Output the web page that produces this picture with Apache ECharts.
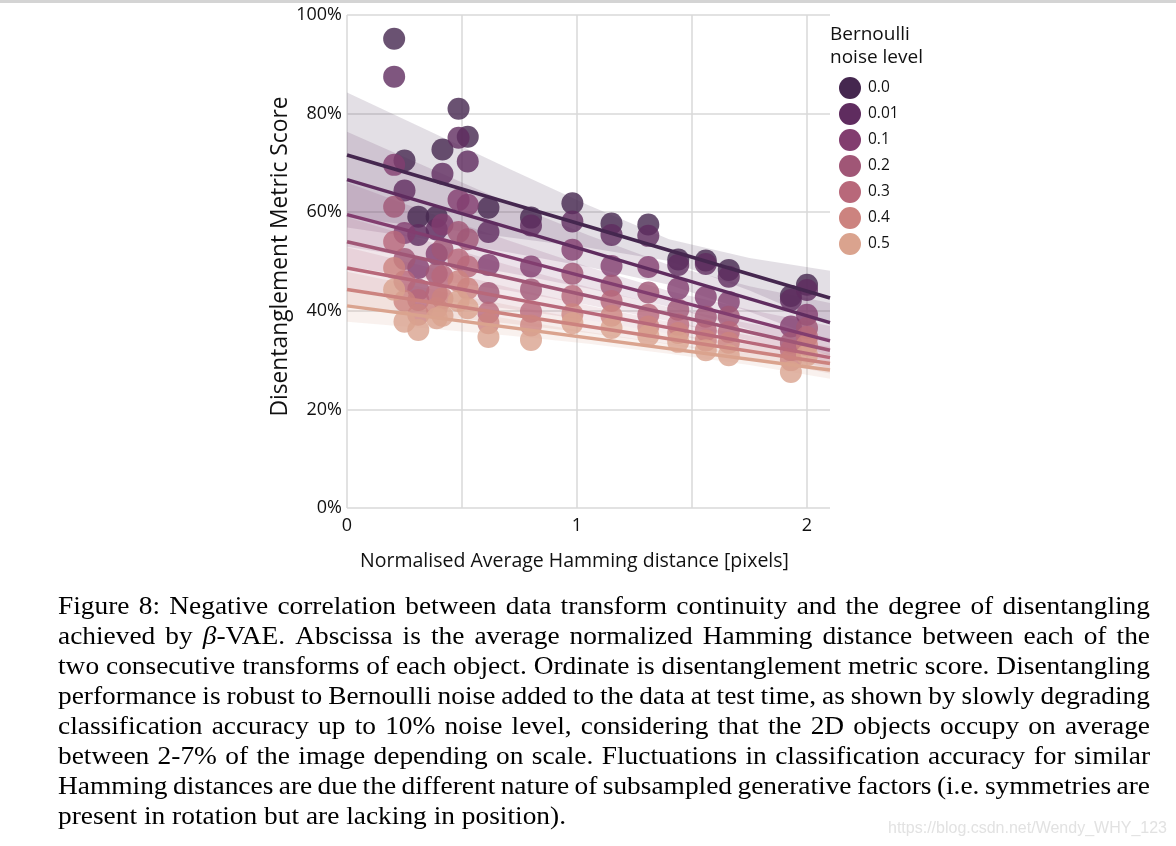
<!DOCTYPE html>
<html><head><meta charset="utf-8">
<script src="https://cdn.jsdelivr.net/npm/echarts@6/dist/echarts.min.js"></script>
<style>html,body{margin:0;padding:0;background:#fff}#c{width:1176px;height:846px}</style>
</head><body><div id="c"></div>
<script>
// ---------- data ----------
const levels = ['0.0', '0.01', '0.1', '0.2', '0.3', '0.4', '0.5'];
const colors = ['#45274f', '#5f2c5f', '#823d6f', '#a05676', '#b8687a', '#cc837f', '#daa38e'];
const xPositions = [0.205, 0.25, 0.31, 0.39, 0.415, 0.485, 0.525, 0.615, 0.80, 0.98, 1.15, 1.31, 1.44, 1.56, 1.66, 1.93, 2.0];
const score_0_0  = [95.2, 70.5, 59.1, 59.1, 72.7, 81.0, 75.3, 60.9, 58.9, 61.8, 57.7, 57.5, 50.4, 50.2, 48.3, 43.0, 45.3];
const score_0_01 = [87.5, 64.4, 55.4, 56.5, 67.8, 75.1, 70.3, 56.0, 57.3, 58.1, 55.4, 55.2, 49.3, 49.5, 46.9, 42.2, 44.2];
const score_0_1  = [69.6, 55.8, 48.7, 51.5, 57.5, 62.5, 61.5, 49.3, 49.0, 52.4, 49.1, 48.9, 44.5, 42.8, 41.8, 36.8, 39.2];
const score_0_2  = [61.1, 50.5, 44.3, 47.5, 52.5, 56.0, 54.5, 43.6, 44.3, 47.5, 45.1, 43.7, 40.2, 38.8, 38.8, 33.5, 36.5];
const score_0_3  = [54.0, 46.0, 42.2, 43.5, 47.0, 50.4, 49.0, 39.6, 39.8, 43.0, 42.0, 39.2, 37.2, 36.0, 35.7, 32.0, 34.7];
const score_0_4  = [48.7, 42.0, 39.2, 40.5, 42.5, 46.0, 44.5, 37.5, 37.0, 39.3, 39.0, 36.8, 35.5, 34.0, 33.5, 30.0, 33.0];
const score_0_5  = [44.3, 37.8, 36.1, 38.5, 39.0, 42.0, 40.5, 34.7, 34.1, 37.5, 36.5, 35.0, 33.7, 32.0, 31.0, 27.6, 31.0];
const scores = [score_0_0, score_0_01, score_0_1, score_0_2, score_0_3, score_0_4, score_0_5];

// regression lines (value at x = lineX[0] and lineX[1])
const lineX = [0, 2.1];
const lineStart = [71.6, 66.6, 59.5, 54.0, 48.7, 44.3, 41.0];
const lineEnd   = [42.6, 37.6, 33.9, 32.0, 30.5, 29.3, 28.0];

// confidence bands read at bandX
const bandX = [0, 0.35, 0.7, 1.05, 1.4, 1.75, 2.1];
const bandUpper = [
  [84.3, 76.6, 68.9, 61.4, 54.5, 50.7, 48.1],
  [76.3, 69.1, 61.9, 55.3, 49.3, 45.0, 41.6],
  [66.0, 60.0, 54.3, 48.9, 44.0, 40.2, 36.9],
  [59.0, 54.1, 49.3, 44.8, 40.7, 37.4, 34.5],
  [52.9, 48.9, 44.8, 41.1, 37.8, 35.0, 32.7],
  [47.9, 44.5, 41.2, 38.1, 35.4, 33.1, 31.3],
  [44.2, 41.2, 38.4, 35.7, 33.3, 31.4, 29.8]
];
const bandLower = [
  [58.9, 57.0, 54.9, 52.8, 50.1, 44.1, 37.1],
  [56.9, 54.5, 51.9, 48.9, 45.3, 39.8, 33.6],
  [53.0, 50.4, 47.7, 44.5, 40.8, 36.2, 30.9],
  [49.0, 46.5, 44.1, 41.2, 37.9, 34.0, 29.5],
  [44.5, 42.5, 40.4, 38.1, 35.4, 32.0, 28.3],
  [40.7, 39.1, 37.4, 35.5, 33.2, 30.5, 27.3],
  [37.8, 36.4, 35.0, 33.3, 31.3, 29.0, 26.2]
];

const xLabelValues = [0, 1, 2];
const xTitle = 'Normalised Average Hamming distance [pixels]';
const yTitle = 'Disentanglement Metric Score';
const legendTitle = ['Bernoulli', 'noise level'];

const captionLines = [
  'Figure 8: Negative correlation between data transform continuity and the degree of disentangling',
  'achieved by \u03b2-VAE. Abscissa is the average normalized Hamming distance between each of the',
  'two consecutive transforms of each object. Ordinate is disentanglement metric score. Disentangling',
  'performance is robust to Bernoulli noise added to the data at test time, as shown by slowly degrading',
  'classification accuracy up to 10% noise level, considering that the 2D objects occupy on average',
  'between 2-7% of the image depending on scale. Fluctuations in classification accuracy for similar',
  'Hamming distances are due the different nature of subsampled generative factors (i.e. symmetries are',
  'present in rotation but are lacking in position).'
];
const watermark = 'https://blog.csdn.net/Wendy_WHY_123';

// ---------- chart ----------
const FONT = 'Open Sans';
const chart = echarts.init(document.getElementById('c'), null, {renderer: 'canvas'});
const series = [];
levels.forEach((lv, i) => {
  series.push({
    name: lv, type: 'scatter', symbol: 'circle', symbolSize: 22,
    data: xPositions.map((x, j) => [x, scores[i][j]]),
    itemStyle: {color: colors[i], opacity: 0.8}, z: 2, silent: true
  });
  series.push({
    name: 'ci ' + lv, type: 'custom', data: [[0, 0]], z: 2, silent: true,
    renderItem: (params, api) => {
      const pts = [];
      for (let k = 0; k < bandX.length; k++) pts.push(api.coord([bandX[k], bandUpper[i][k]]));
      for (let k = bandX.length - 1; k >= 0; k--) pts.push(api.coord([bandX[k], bandLower[i][k]]));
      return {type: 'polygon', shape: {points: pts}, style: {fill: colors[i], opacity: 0.15}};
    }
  });
});
levels.forEach((lv, i) => {
  series.push({
    name: 'fit ' + lv, type: 'line', showSymbol: false, symbol: 'none', silent: true,
    data: [[lineX[0], lineStart[i]], [lineX[1], lineEnd[i]]],
    lineStyle: {color: colors[i], width: 3.5}, z: 3
  });
});

// caption layout (justified words)
const CAP_FONT = 'Liberation Serif';
const CAP_SIZE = 25;
const capLeft = 58, capRight = 1150, capTop = 607, capStep = 30, lastLineWidth = 508;
const mctx = document.createElement('canvas').getContext('2d');
function measure(t, italic) {
  mctx.font = (italic ? 'italic ' : '') + CAP_SIZE + 'px "' + CAP_FONT + '"';
  return mctx.measureText(t).width;
}
const SX = lastLineWidth / measure(captionLines[captionLines.length - 1], false);
function wordWidth(w) {
  if (w.charAt(0) === '\u03b2') return (measure('\u03b2', true) + measure(w.slice(1), false)) * SX;
  return measure(w, false) * SX;
}
const graphics = [];
captionLines.forEach((line, li) => {
  const words = line.split(' ');
  const widths = words.map(wordWidth);
  const sum = widths.reduce((a, b) => a + b, 0);
  const justify = li < captionLines.length - 1;
  const gap = justify ? (capRight - capLeft - sum) / (words.length - 1) : measure(' ', false) * SX;
  let x = capLeft;
  const y = capTop + li * capStep;
  words.forEach((w, wi) => {
    const isBeta = w.charAt(0) === '\u03b2';
    graphics.push({
      type: 'text', x: x, y: y, scaleX: SX, silent: true,
      style: {
        text: isBeta ? '{i|\u03b2}' + w.slice(1) : w,
        fontFamily: CAP_FONT, fontSize: CAP_SIZE, fill: '#000',
        verticalAlign: 'middle', align: 'left',
        rich: {i: {fontFamily: CAP_FONT, fontSize: CAP_SIZE, fontStyle: 'italic', fill: '#000'}}
      }
    });
    x += widths[wi] + gap;
  });
});
graphics.push({type: 'text', x: 830, y: 35, silent: true,
  style: {text: legendTitle[0], fontFamily: FONT, fontSize: 19, fill: '#111', verticalAlign: 'middle'}});
graphics.push({type: 'text', x: 830, y: 58, silent: true,
  style: {text: legendTitle[1], fontFamily: FONT, fontSize: 19, fill: '#111', verticalAlign: 'middle'}});
graphics.push({type: 'text', x: 888, y: 829, silent: true,
  style: {text: watermark, fontFamily: 'Liberation Sans', fontSize: 16, fill: '#e2e2e2', verticalAlign: 'middle'}});
graphics.push({type: 'rect', shape: {x: 0, y: 0, width: 1176, height: 3}, silent: true,
  style: {fill: '#d4d4d4'}});

chart.setOption({
  animation: false,
  backgroundColor: '#fff',
  textStyle: {fontFamily: FONT},
  grid: {left: 347, right: 346, top: 15, bottom: 338, containLabel: false},
  legend: {
    orient: 'vertical', left: 839, top: 77, padding: 0, itemWidth: 22, itemHeight: 22, itemGap: 4,
    selectedMode: false,
    textStyle: {fontFamily: FONT, fontSize: 15.5, color: '#111', padding: [0, 0, 0, 2]},
    data: levels.map((lv, i) => ({name: lv, icon: 'circle', itemStyle: {color: colors[i], opacity: 1}}))
  },
  xAxis: {
    type: 'value', min: 0, max: 2.1, interval: 0.5,
    axisLine: {show: false}, axisTick: {show: false},
    splitLine: {show: true, showMaxLine: false, lineStyle: {color: '#d9d9d9', width: 1.5}},
    axisLabel: {
      formatter: v => xLabelValues.indexOf(v) >= 0 ? String(v) : '',
      showMaxLabel: false, fontSize: 18, color: '#111', margin: 9, fontFamily: FONT
    },
    name: xTitle, nameLocation: 'middle', nameGap: 43,
    nameTextStyle: {fontSize: 19.5, color: '#111', fontFamily: FONT, padding: [0, 28, 0, 0]}
  },
  yAxis: {
    type: 'value', min: 0, max: 100, interval: 20,
    axisLine: {show: false}, axisTick: {show: false},
    splitLine: {show: true, lineStyle: {color: '#d9d9d9', width: 1.5}},
    axisLabel: {formatter: '{value}%', fontSize: 18, color: '#111', margin: 5, fontFamily: FONT},
    name: yTitle, nameLocation: 'middle', nameGap: 52,
    nameTextStyle: {fontSize: 22.8, color: '#111', fontFamily: FONT, padding: [0, 0, 0, 10]}
  },
  series: series,
  graphic: graphics
});
</script></body></html>
